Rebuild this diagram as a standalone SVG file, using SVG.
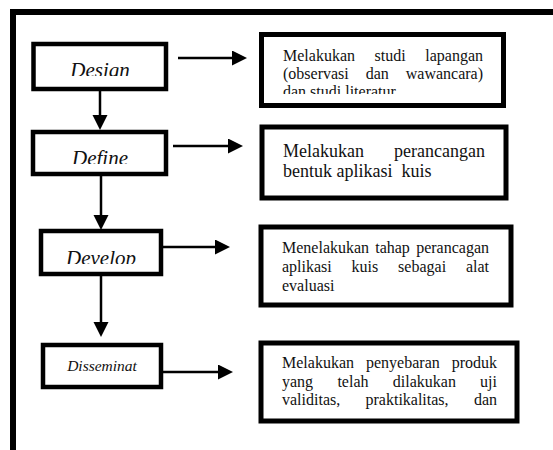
<svg xmlns="http://www.w3.org/2000/svg" width="553" height="450" viewBox="0 0 553 450">
<style>
.frame{fill:none;stroke:#000;stroke-width:6}
.lbox{fill:#fff;stroke:#000;stroke-width:4.5}
.rbox{fill:#fff;stroke:#000;stroke-width:5}
.step{font-family:"Liberation Serif",serif;font-style:italic;font-size:21px;fill:#111;text-anchor:middle}
.small{font-size:15.5px}
.desc{font-family:"Liberation Serif",serif;font-size:16px;fill:#111}
.big{font-size:18px}
.end{text-anchor:end}
.conn{stroke:#000;stroke-width:2.5;fill:none;marker-end:url(#ah)}
</style>
<defs>
<marker id="ah" markerUnits="userSpaceOnUse" markerWidth="16" markerHeight="16" refX="7" refY="7.5" orient="auto">
<path d="M0,0 L15,7.5 L0,15 Z" fill="#000"/>
</marker>
<clipPath id="c1"><rect x="35" y="46" width="130" height="30"/></clipPath>
<clipPath id="c2"><rect x="35" y="134" width="130" height="30"/></clipPath>
<clipPath id="c3"><rect x="43" y="233" width="116" height="31"/></clipPath>
<clipPath id="c4"><rect x="262" y="35" width="240" height="59"/></clipPath>
</defs>
<rect width="553" height="450" fill="#fff"/>
<path class="frame" d="M13,453 V12 H556"/>

<g id="connectors">
<line class="conn" x1="100" y1="90" x2="100" y2="122"/>
<line class="conn" x1="101" y1="174" x2="101" y2="222"/>
<line class="conn" x1="101" y1="274" x2="101" y2="329"/>
<line class="conn" x1="178" y1="58" x2="239" y2="58"/>
<line class="conn" x1="173" y1="146" x2="235" y2="146"/>
<line class="conn" x1="161" y1="247" x2="222" y2="247"/>
<line class="conn" x1="161" y1="372" x2="225" y2="372"/>
</g>

<g id="design">
<rect class="lbox" x="33.5" y="44" width="132.5" height="45"/>
<text class="step" x="100" y="77" clip-path="url(#c1)">Design</text>
</g>
<g id="define">
<rect class="lbox" x="33" y="132" width="133" height="42"/>
<text class="step" x="100" y="165" clip-path="url(#c2)">Define</text>
</g>
<g id="develop">
<rect class="lbox" x="41" y="231" width="120" height="43"/>
<text class="step" x="101" y="265" clip-path="url(#c3)">Develop</text>
</g>
<g id="disseminat">
<rect class="lbox" x="43" y="345" width="118" height="42"/>
<text class="step small" x="102" y="371">Disseminat</text>
</g>

<g id="desc-design">
<rect class="rbox" x="261.5" y="34.5" width="242" height="71"/>
<g clip-path="url(#c4)" class="desc">
<text x="283" y="61">Melakukan</text><text x="374.6" y="61">studi</text><text class="end" x="483" y="61">lapangan</text>
<text x="283" y="79">(observasi</text><text x="365.7" y="79">dan</text><text class="end" x="483" y="79">wawancara)</text>
<text x="283" y="97">dan studi literatur</text>
</g>
</g>

<g id="desc-define">
<rect class="rbox" x="262" y="127" width="244" height="71"/>
<text class="desc big" x="283" y="157">Melakukan</text><text class="desc big end" x="485" y="157">perancangan</text>
<text class="desc big" x="283" y="177" xml:space="preserve">bentuk aplikasi  kuis</text>
</g>

<g id="desc-develop">
<rect class="rbox" x="261" y="227" width="250" height="78"/>
<text class="desc" x="282" y="253">Menelakukan</text><text class="desc" x="375.2" y="253">tahap</text><text class="desc end" x="489" y="253">perancagan</text>
<text class="desc" x="282" y="272">aplikasi</text><text class="desc" x="351.6" y="272">kuis</text><text class="desc" x="398.1" y="272">sebagai</text><text class="desc end" x="489" y="272">alat</text>
<text class="desc" x="282" y="291">evaluasi</text>
</g>

<g id="desc-disseminat">
<rect class="rbox" x="261" y="343" width="256" height="78"/>
<text class="desc" x="282" y="368">Melakukan</text><text class="desc" x="366" y="368">penyebaran</text><text class="desc end" x="497" y="368">produk</text>
<text class="desc" x="282" y="387">yang</text><text class="desc" x="337.4" y="387">telah</text><text class="desc" x="392.8" y="387">dilakukan</text><text class="desc end" x="497" y="387">uji</text>
<text class="desc" x="282" y="405">validitas,</text><text class="desc" x="365.5" y="405">praktikalitas,</text><text class="desc end" x="497" y="405">dan</text>
</g>
</svg>
